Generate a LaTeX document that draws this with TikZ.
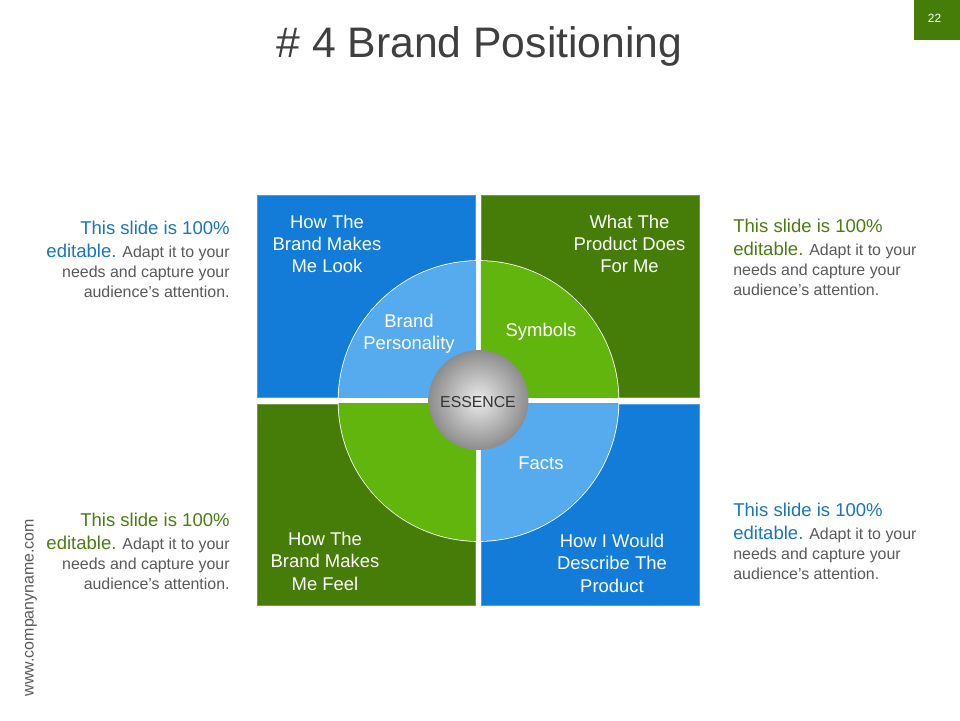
\documentclass[tikz,border=0pt]{standalone}
\usepackage{fontspec}
\setmainfont{Liberation Sans}[Ligatures=ResetAll]
\usetikzlibrary{positioning}
\definecolor{tileblue}{HTML}{127CD8}
\definecolor{tilegreen}{HTML}{467C08}
\definecolor{arcblue}{HTML}{56ABEF}
\definecolor{arcgreen}{HTML}{62B50D}
\definecolor{greytext}{HTML}{595959}
\definecolor{titletext}{HTML}{3F3F3F}
\definecolor{blurbblue}{HTML}{1A75BC}
\definecolor{blurbgreen}{HTML}{4A7C12}
\newcommand{\blurbtext}[1]{\textcolor{#1}{\fontsize{10.55}{13}\selectfont This slide is 100\%}\\[1.6pt]\textcolor{#1}{\fontsize{10.55}{13}\selectfont editable.} Adapt it to your\\needs and capture your\\audience's attention.}
\begin{document}
\begin{tikzpicture}[x=0.02cm,y=-0.02cm,
  tile/.style={draw=#1!75!white,fill=#1,line width=0.5pt,minimum width=4.37cm,minimum height=4.03cm,inner sep=0pt},
  tilelabel/.style={text=white,align=center,inner sep=0pt,font=\fontsize{10.5}{12.75}\selectfont},
  blurb/.style={text=greytext,inner sep=0pt,font=\fontsize{9.07}{11.34}\selectfont}]
\useasboundingbox (0,0) rectangle (960,720);
\node [tile=tileblue] (lookbox) at (366.5,296.5) {};
\node [tile=tilegreen] (doesbox) at (590.5,296.5) {};
\node [tile=tilegreen] (feelbox) at (366.5,505) {};
\node [tile=tileblue] (describebox) at (590.5,505) {};
\coordinate (hub) at (478.5,401);
\foreach \tilename/\col in {lookbox/arcblue,doesbox/arcgreen,feelbox/arcgreen,describebox/arcblue} {
  \begin{scope}
  \clip (\tilename.north west) rectangle (\tilename.south east);
  \fill [white] (hub) circle (140.8);
  \fill [\col] (hub) circle (140);
  \end{scope}
}
\node [circle,minimum size=2cm,inner sep=0pt,inner color=black!8,outer color=black!45,font=\fontsize{9}{10}\selectfont,text=black!80] (essence) at (478.5,400) {};
\node [font=\fontsize{9}{10}\selectfont,text=black!80,inner sep=0pt] (essencetext) at (478,402.5) {ESSENCE};
\node [tilelabel] (looktext) at (327,244) {How The\\Brand Makes\\Me Look};
\node [tilelabel] (doestext) at (629.5,244) {What The\\Product Does\\For Me};
\node [tilelabel] (feeltext) at (325,561) {How The\\Brand Makes\\Me Feel};
\node [tilelabel] (describetext) at (612,563) {How I Would\\Describe The\\Product};
\node [tilelabel] (personality) at (409,334) {Brand\\Personality};
\node [tilelabel] (symbols) at (541,332) {Symbols};
\node [tilelabel] (facts) at (541,463) {Facts};
\node [blurb,align=right,anchor=north east] (blurbone) at (230,221) {\blurbtext{blurbblue}};
\node [blurb,align=right,anchor=north east] (blurbtwo) at (230,513) {\blurbtext{blurbgreen}};
\node [blurb,align=left,anchor=north west] (blurbthree) at (733,219) {\blurbtext{blurbgreen}};
\node [blurb,align=left,anchor=north west] (blurbfour) at (733,503) {\blurbtext{blurbblue}};
\node [text=titletext,inner sep=0pt,font=\fontsize{24.3}{29}\selectfont] (title) at (479.5,46) {\# 4 Brand Positioning};
\node [fill=tilegreen,minimum width=0.92cm,minimum height=0.8cm,inner sep=0pt] (pagebox) at (937,20) {};
\node [text=white,inner sep=0pt,font=\fontsize{6.8}{8}\selectfont] (pageno) at (934.5,18) {22};
\node [rotate=90,text=greytext,inner sep=0pt,font=\fontsize{9.07}{11}\selectfont] (website) at (31,607.5) {www.companyname.com};
\end{tikzpicture}
\end{document}
